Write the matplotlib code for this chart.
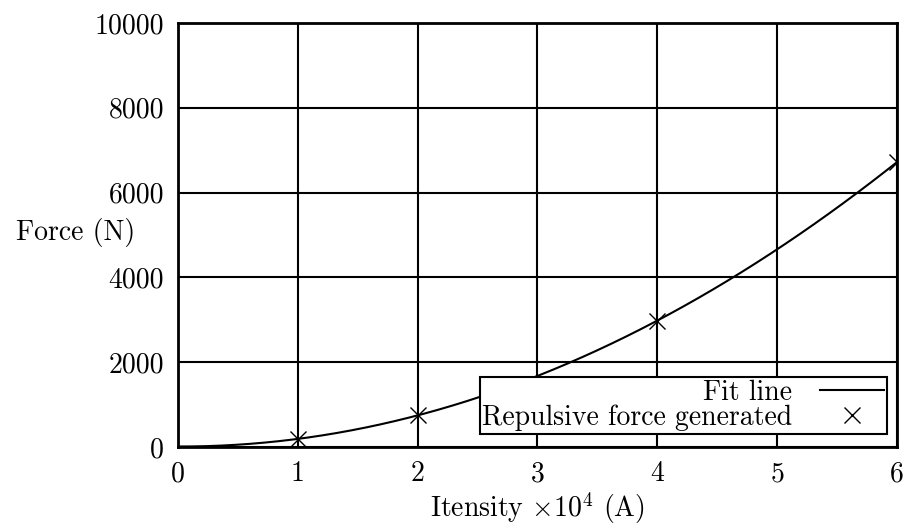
import numpy as np
import matplotlib
matplotlib.use("Agg")
import matplotlib.pyplot as plt

# Measured repulsive force vs current intensity (x 10^4 A)
intensity = [1, 2, 4, 6]
force = [190, 750, 2980, 6720]

x_ticks = [0, 1, 2, 3, 4, 5, 6]
y_ticks = [0, 2000, 4000, 6000, 8000, 10000]

plt.rcParams["font.family"] = ["cmr10", "DejaVu Serif"]
plt.rcParams["mathtext.fontset"] = "cm"
plt.rcParams["axes.formatter.use_mathtext"] = True

fs = 20
fig = plt.figure(figsize=(9.09, 5.24), dpi=100)
ax = fig.add_axes([0.1958, 0.1469, 0.7910, 0.8092])

# quadratic fit of the measured points
coef = np.polyfit(intensity, force, 2)
xs = np.linspace(0, 6, 200)
ax.plot(xs, np.polyval(coef, xs), color="black", lw=1.5, label="Fit line")
ax.plot(intensity, force, ls="none", marker="x", ms=11, mew=1.0,
        color="black", label="Repulsive force generated")

ax.set_xlim(0, 6)
ax.set_ylim(0, 10000)
ax.set_xticks(x_ticks)
ax.set_yticks(y_ticks)
ax.set_xticklabels([str(v) for v in x_ticks])
ax.set_yticklabels([str(v) for v in y_ticks])
ax.tick_params(labelsize=fs, direction="in", length=0, pad=10)
ax.grid(True, color="black", lw=1.5)
for s in ax.spines.values():
    s.set_linewidth(2)

ax.set_xlabel(r"Itensity $\times10^4$ (A)", fontsize=fs, labelpad=2)
ax.set_ylabel("Force (N)", fontsize=fs, rotation=0, ha="center", va="center")
ax.yaxis.set_label_coords(-0.143, 0.507)

leg = ax.legend(loc="lower right", bbox_to_anchor=(0.986, 0.031),
                borderaxespad=0, markerfirst=False, fancybox=False,
                framealpha=1, edgecolor="black", fontsize=fs,
                handlelength=2.3, labelspacing=-0.05, borderpad=0.1,
                handletextpad=1.0)
leg.get_frame().set_linewidth(1.5)

fig.savefig("out.png", dpi=100)
